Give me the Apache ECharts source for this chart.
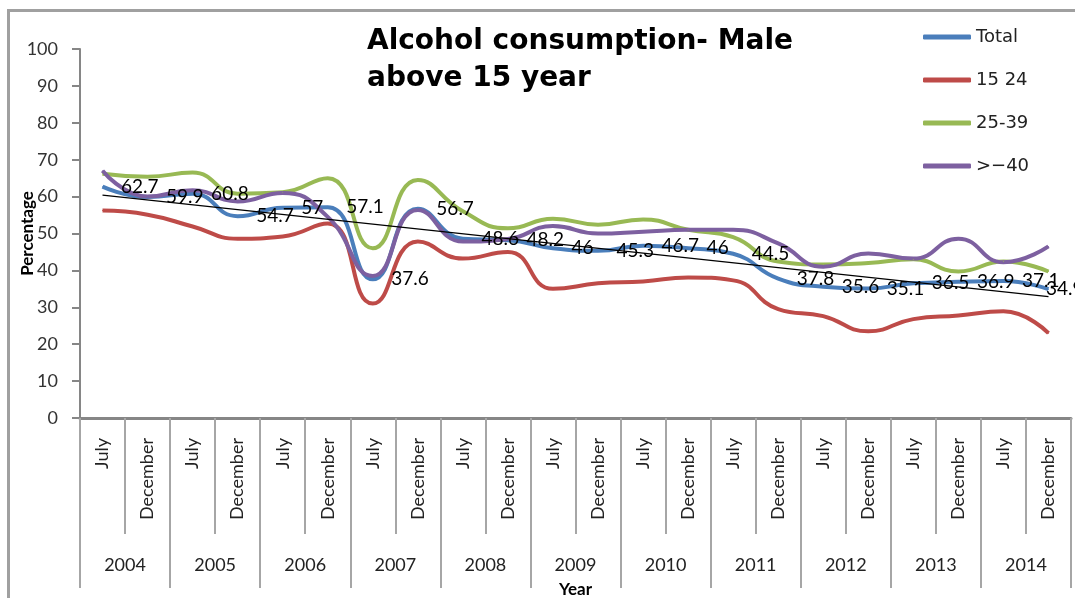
<!DOCTYPE html>
<html><head><meta charset="utf-8">
<script src="https://cdn.jsdelivr.net/npm/echarts@6/dist/echarts.min.js"></script>
<style>html,body{margin:0;padding:0;background:#fff}#c{width:1075px;height:598px}</style>
</head><body><div id="c"></div>
<script>
var months = ['July','December','July','December','July','December','July','December','July','December','July','December','July','December','July','December','July','December','July','December','July','December'];
var years = ['2004','2005','2006','2007','2008','2009','2010','2011','2012','2013','2014'];
var yTicks = [0,10,20,30,40,50,60,70,80,90,100];
var total = [62.7,59.9,60.8,54.7,57,57.1,37.6,56.7,48.6,48.2,46,45.3,46.7,46,44.5,37.8,35.6,35.1,36.5,36.9,37.1,34.9];
var age15_24 = [56.2,55.1,51.9,48.6,49.2,52.7,31,47.8,43.2,45,35,36.5,37,38.1,37.3,29.5,27.6,23.5,26.8,27.8,28.9,23];
var age25_39 = [66.2,65.4,66.5,60.8,61.2,65,46,64.5,56,51.4,54,52.4,53.8,51,49,42.4,41.6,42,43,39.7,42.4,39.7];
var age40 = [67,60,61.7,58.7,61,54.5,38.5,56.4,47.8,48.5,52,50,50.5,51,51,47.3,41,44.6,43.2,48.6,42.2,46.5];
var trendEnds = [60.4,32.9];
var seriesNames = ['Total','15 24','25-39','>\u221240'];
var colors = ['#4A7EBB','#BE4B48','#98B954','#7D60A0'];

var FONT = 'Lato';
var chart = echarts.init(document.getElementById('c'));
function lineSeries(name, data, color, withLabel){
  return {
    name: name, type: 'line', data: data, smooth: 0.5,
    symbol: 'circle', symbolSize: 1, showSymbol: true,
    itemStyle: {color: color},
    lineStyle: {color: color, width: 4},
    label: withLabel ? {show: true, position: 'right', distance: 18, fontFamily: FONT, fontSize: 19, color: '#000'} : {show: false},
    labelLayout: {hideOverlap: false},
    emphasis: {disabled: true}, z: 2
  };
}
// Total with its last label pulled inside the plot, as in the original
var totalData = total.map(function(v, i){
  return i === total.length - 1 ? {value: v, label: {distance: -3}} : v;
});
var option = {
  animation: false,
  backgroundColor: '#fff',
  title: {
    text: 'Alcohol consumption- Male\nabove 15 year',
    left: 367, top: 23, padding: 0,
    textStyle: {fontFamily: 'DejaVu Sans', fontWeight: 'bold', fontSize: 28, lineHeight: 37, color: '#000'}
  },
  legend: {
    orient: 'vertical', left: 923, top: 27, padding: 0,
    itemWidth: 48, itemHeight: 5, itemGap: 23, icon: 'roundRect',
    data: seriesNames,
    textStyle: {fontFamily: 'DejaVu Sans', fontSize: 18, color: '#222', lineHeight: 20}
  },
  grid: {left: 80, width: 991, top: 49, height: 369, containLabel: false, outerBoundsMode: 'none'},
  xAxis: [{
    type: 'category', data: months, position: 'bottom', boundaryGap: true,
    axisLine: {show: true, lineStyle: {color: '#868686', width: 3}},
    axisTick: {show: true, interval: 0, length: 116, lineStyle: {color: '#A6A6A6', width: 2}},
    axisLabel: {interval: 0, rotate: 90, margin: 20, fontFamily: FONT, fontSize: 18, color: '#222'},
    splitLine: {show: false}
  },{
    type: 'category', data: years, position: 'bottom', boundaryGap: true,
    axisLine: {show: false},
    axisTick: {show: true, interval: 0, length: 170, lineStyle: {color: '#A6A6A6', width: 2}},
    axisLabel: {interval: 0, margin: 138, fontFamily: FONT, fontSize: 18, color: '#222'},
    name: 'Year', nameLocation: 'middle', nameGap: 163, nameMoveOverlap: false,
    nameTextStyle: {fontFamily: FONT, fontWeight: 'bold', fontSize: 17, color: '#000'},
    splitLine: {show: false}
  }],
  yAxis: {
    type: 'value', min: yTicks[0], max: yTicks[yTicks.length-1], interval: 10,
    axisLine: {show: true, lineStyle: {color: '#868686', width: 2}},
    axisTick: {show: true, length: 8, lineStyle: {color: '#868686', width: 2}},
    axisLabel: {margin: 22, fontFamily: FONT, fontSize: 18, color: '#333'},
    splitLine: {show: false},
    name: 'Percentage', nameLocation: 'middle', nameRotate: 90, nameGap: 44, nameMoveOverlap: false,
    nameTextStyle: {fontFamily: FONT, fontWeight: 'bold', fontSize: 17, color: '#000'}
  },
  graphic: [{
    type: 'rect', silent: true, z: -1,
    shape: {x: 8.5, y: 10.5, width: 1200, height: 800},
    style: {fill: 'none', stroke: '#A0A0A0', lineWidth: 3}
  }],
  series: [
    lineSeries(seriesNames[0], totalData, colors[0], true),
    lineSeries(seriesNames[1], age15_24, colors[1], false),
    lineSeries(seriesNames[2], age25_39, colors[2], false),
    lineSeries(seriesNames[3], age40, colors[3], false),
    {
      name: 'trend', type: 'line', data: [[0, trendEnds[0]], [months.length-1, trendEnds[1]]],
      symbol: 'none', lineStyle: {color: '#000', width: 1.2}, emphasis: {disabled: true}, z: 3
    }
  ]
};
chart.setOption(option);
</script></body></html>
